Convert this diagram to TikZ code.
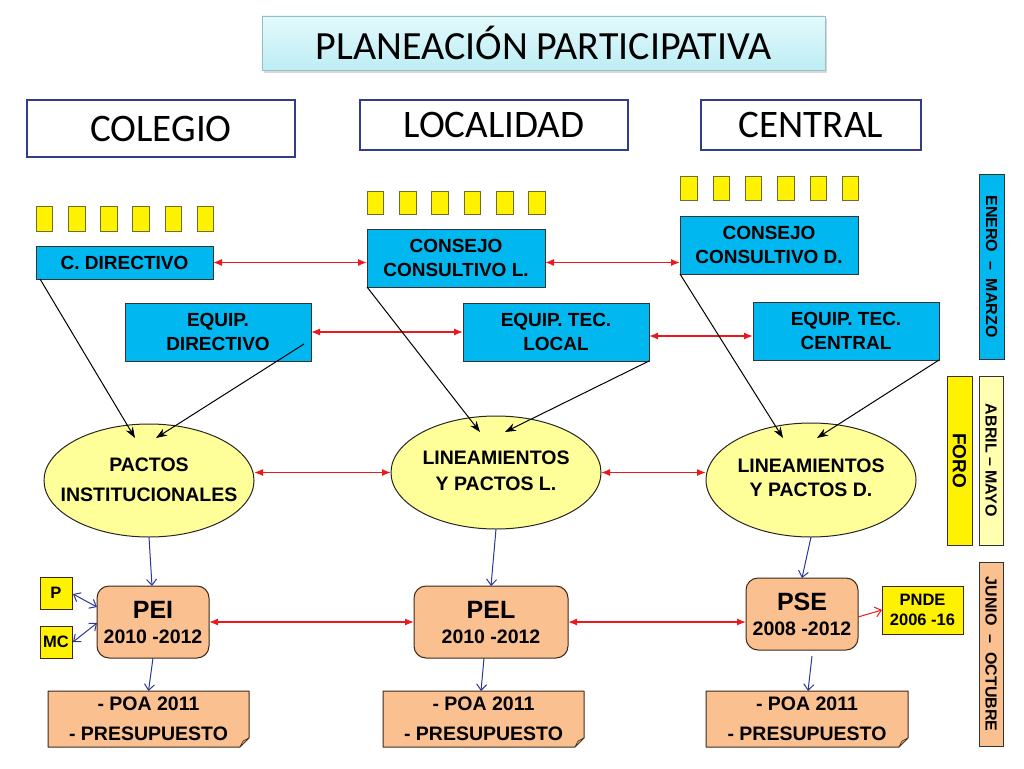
\documentclass[tikz,border=0pt]{standalone}
\usepackage{fontspec}
\setmainfont{Liberation Sans}
\newfontfamily\calib{Carlito}
\usetikzlibrary{arrows.meta,shapes.geometric,shadows}
\definecolor{skyc}{RGB}{0,183,239}
\definecolor{lyellow}{RGB}{255,255,153}
\definecolor{paleyel}{RGB}{255,255,175}
\definecolor{peach}{RGB}{250,192,144}
\definecolor{peachdark}{RGB}{215,160,115}
\definecolor{navyc}{RGB}{50,60,140}
\definecolor{redc}{RGB}{235,25,30}
\definecolor{bluec}{RGB}{45,55,150}
\definecolor{brownedge}{RGB}{60,40,25}
\definecolor{sqedge}{RGB}{110,110,40}
\definecolor{titletop}{RGB}{228,250,252}
\definecolor{titlebot}{RGB}{188,237,244}
\newcommand{\zerowtext}[1]{\makebox[0pt][c]{\begin{tabular}{@{}c@{}}#1\end{tabular}}}
\begin{document}
\begin{tikzpicture}[x=1pt,y=-1pt,
  every node/.style={inner sep=0pt, outer sep=0pt},
  titlebox/.style={top color=titletop, bottom color=titlebot, draw=titlebot!80!black, line width=0.4pt,
    drop shadow={opacity=0.3, shadow xshift=2pt, shadow yshift=-3pt},
    font=\calib\fontsize{40}{40}\selectfont},
  header/.style={draw=navyc, line width=2.2pt, fill=white, font=\calib\fontsize{39}{39}\selectfont},
  sq/.style={draw=sqedge, line width=0.8pt, fill=yellow, minimum width=16.5pt},
  cyanbox/.style={draw=black!80, line width=1pt, fill=skyc, align=center,
    font=\bfseries\fontsize{19}{24}\selectfont},
  oval/.style={ellipse, draw=black!85, line width=1pt, fill=lyellow,
    minimum width=210pt},
  plan/.style={rounded corners=12pt, draw=brownedge, line width=1pt, fill=peach, align=center,
    font=\bfseries\fontsize{19.5}{25}\selectfont},
  smallbox/.style={draw=brownedge, line width=1pt, fill=yellow, align=center,
    font=\bfseries\fontsize{16.5}{20}\selectfont},
  poa/.style={fill=peach, align=center, minimum width=201pt, minimum height=56pt,
    font=\bfseries\fontsize{19.5}{30}\selectfont},
  vbar/.style={draw=black!80, line width=1pt, rotate=-90,
    font=\bfseries\fontsize{16}{16}\selectfont},
  redarr/.style={draw=redc, line width=1.3pt,
    {Latex[length=9pt,width=7pt]}-{Latex[length=9pt,width=7pt]}},
  redone/.style={draw=redc, line width=1pt, -{Straight Barb[length=6pt,width=10pt]}},
  blkarr/.style={draw=black, line width=1pt, -{Stealth[length=11pt,width=8pt]}},
  bluearr/.style={draw=bluec, line width=1pt, -{Straight Barb[length=6pt,width=10pt]}},
  bluedbl/.style={draw=bluec, line width=1pt,
    {Straight Barb[length=6pt,width=10pt]}-{Straight Barb[length=6pt,width=10pt]}}
]
\fill[white] (0,0) rectangle (1024,768);
\useasboundingbox (0,0) rectangle (1024,768);

% title
\node[titlebox, minimum width=563pt, minimum height=54pt] (title) at (543.5,43) {PLANEACIÓN PARTICIPATIVA};

% headers
\node[header, minimum width=268pt, minimum height=57pt] (colegio) at (161,128.5) {COLEGIO};
\node[header, minimum width=268pt, minimum height=50pt] (localidad) at (494,125) {LOCALIDAD};
\node[header, minimum width=220pt, minimum height=50pt] (central) at (811,125) {CENTRAL};

% yellow squares
\foreach \i in {0,...,5}{
  \node[sq, minimum height=25pt] (sqa\i) at ({44.5+32.2*\i},218.5) {};
  \node[sq, minimum height=23pt] (sqb\i) at ({375.5+32.3*\i},202.5) {};
  \node[sq, minimum height=24pt] (sqc\i) at ({689+32.3*\i},188) {};
}

% cyan boxes
\node[cyanbox, minimum width=177pt, minimum height=33pt] (cdir) at (124.5,262.5) {C. DIRECTIVO};
\node[cyanbox, minimum width=186pt, minimum height=58pt] (eqdir) at (218,332) {EQUIP.\\DIRECTIVO};
\node[cyanbox, minimum width=178pt, minimum height=58pt] (ccl) at (456,258) {CONSEJO\\CONSULTIVO L.};
\node[cyanbox, minimum width=186pt, minimum height=58pt] (etl) at (556,332) {EQUIP. TEC.\\LOCAL};
\node[cyanbox, minimum width=178pt, minimum height=58pt] (ccd) at (769,245) {CONSEJO\\CONSULTIVO D.};
\node[cyanbox, minimum width=186pt, minimum height=58pt] (etc) at (846,331) {EQUIP. TEC.\\CENTRAL};

% ellipses
\node[oval, minimum height=113pt, font=\bfseries\fontsize{19.5}{30}\selectfont] (pactos) at (149,480.5) {\zerowtext{PACTOS\\INSTITUCIONALES}};
\node[oval, minimum height=113pt, font=\bfseries\fontsize{19.5}{26}\selectfont] (linL) at (496,472.5) {\zerowtext{LINEAMIENTOS\\Y PACTOS L.}};
\node[oval, minimum height=114pt, font=\bfseries\fontsize{19.5}{24}\selectfont] (linD) at (811,480) {\zerowtext{LINEAMIENTOS\\Y PACTOS D.}};

% plans
\node[plan, minimum width=112pt, minimum height=72pt] (pei) at (153,622) {{\fontsize{25}{25}\selectfont PEI}\\2010 -2012};
\node[plan, minimum width=154pt, minimum height=72pt] (pel) at (491,622) {{\fontsize{25}{25}\selectfont PEL}\\2010 -2012};
\node[plan, minimum width=112pt, minimum height=72pt] (pse) at (802,614) {{\fontsize{25}{25}\selectfont PSE}\\2008 -2012};

\node[smallbox, minimum width=32pt, minimum height=32pt] (p) at (56,593) {P};
\node[smallbox, minimum width=32pt, minimum height=32pt] (mc) at (56,642) {MC};
\node[smallbox, minimum width=81pt, minimum height=48pt] (pnde) at (922.5,610) {PNDE\\2006 -16};

% POA notes
\node[poa] (poa1) at (148.5,719) {- POA 2011\\- PRESUPUESTO};
\node[poa] (poa2) at (483.5,719) {- POA 2011\\- PRESUPUESTO};
\node[poa, minimum width=202pt] (poa3) at (807,719) {- POA 2011\\- PRESUPUESTO};
\foreach \n in {poa1,poa2,poa3}{
  \fill[white] ([yshift=9pt]\n.south east) -- (\n.south east) -- ([xshift=-9pt]\n.south east) -- cycle;
  \draw[draw=brownedge, line width=1pt, line join=round] (\n.north west) -- (\n.north east) -- ([yshift=9pt]\n.south east) -- ([xshift=-9pt]\n.south east) -- (\n.south west) -- cycle;
  \filldraw[fill=peachdark, draw=brownedge, line width=0.6pt, line join=round] ([yshift=9pt]\n.south east) -- ([xshift=-9pt]\n.south east) -- ([shift={(-6pt,6pt)}]\n.south east) -- cycle;
}

% vertical bars
\node[vbar, fill=skyc, minimum width=185pt, minimum height=25pt] (enero) at (991.5,266.5) {ENERO\ \ –\ \ MARZO};
\node[vbar, fill=yellow, minimum width=169pt, minimum height=25pt, font=\bfseries\fontsize{19}{19}\selectfont] (foro) at (959.5,460.5) {FORO};
\node[vbar, fill=paleyel, minimum width=169pt, minimum height=24pt] (abril) at (991,460.5) {ABRIL – MAYO};
\node[vbar, fill=peach, minimum width=184pt, minimum height=24pt] (junio) at (991,654) {JUNIO\ \ –\ \ OCTUBRE};

% red horizontal connectors
\draw[redarr] (cdir.east) -- (cdir.east -| ccl.west);
\draw[redarr] (ccl.east |- cdir.east) -- (ccd.west |- cdir.east);
\draw[redarr] (eqdir.east) -- (eqdir.east -| etl.west);
\draw[redarr] ([yshift=-4pt]etl.east) -- ([yshift=-4pt]etl.east -| etc.west);
\draw[redarr] (linL.west -| pactos.east) -- (linL.west);
\draw[redarr] (linL.east) -- (linL.east -| linD.west);
\draw[redarr] (pei.east) -- (pei.east -| pel.west);
\draw[redarr] (pel.east) -- (pel.east -| pse.west);
\draw[redone] ([yshift=-3pt]pse.east) -- (pnde.west);

% black arrows into ellipses
\coordinate (t1) at (135,438);
\coordinate (t2) at (156,438);
\coordinate (t3) at (480,432);
\coordinate (t4) at (505,432);
\coordinate (t5) at (783,438);
\coordinate (t6) at (817,438);
\draw[blkarr] ([xshift=4pt]cdir.south west) -- (t1);
\draw[blkarr] ([shift={(-7pt,-12pt)}]eqdir.east) -- (t2);
\draw[blkarr] (ccl.south west) -- (t3);
\draw[blkarr] (etl.south east) -- (t4);
\draw[blkarr] (ccd.south west) -- (t5);
\draw[blkarr] (etc.south east) -- (t6);

% blue arrows
\draw[bluearr] (pactos.south) -- ([xshift=-1pt]pei.north);
\draw[bluearr] (linL.south) -- (pel.north);
\draw[bluearr] (linD.south) -- (pse.north);
\draw[bluearr] (pei.south) -- (poa1.north);
\draw[bluearr] ([xshift=-7pt]pel.south) -- ([xshift=-2.5pt]poa2.north);
\draw[bluearr] ([shift={(10pt,-6pt)}]pse.south) -- ([xshift=1pt]poa3.north);
\draw[bluedbl] ([shift={(1pt,-1pt)}]p.east) -- ([yshift=15pt]pei.west);
\draw[bluedbl] ([xshift=1pt]mc.east) -- ([yshift=-1pt]pei.west);
\end{tikzpicture}
\end{document}
